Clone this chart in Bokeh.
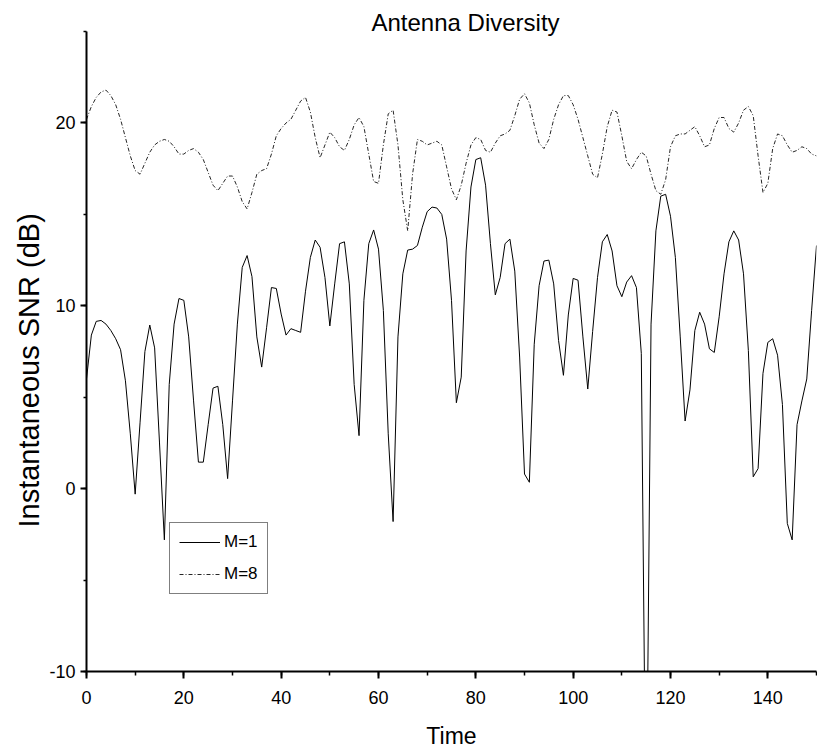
from bokeh.plotting import figure
from bokeh.models import Range1d, SingleIntervalTicker, Legend, LegendItem, Label, Title
from bokeh.embed import file_html
from bokeh.resources import INLINE

# ---- data -------------------------------------------------------------
time = list(range(151))

m1 = [6.0, 8.4, 9.15, 9.2, 9.0, 8.65, 8.2, 7.6, 5.9, 3.0,
      -0.3, 3.6, 7.5, 8.95, 7.7, 2.5, -2.8, 5.7, 9.0, 10.4,
      10.3, 8.3, 4.8, 1.45, 1.45, 3.5, 5.5, 5.6, 3.5, 0.55,
      4.8, 9.0, 12.1, 12.75, 11.6, 8.3, 6.65, 8.8, 11.0, 10.95,
      9.55, 8.4, 8.75, 8.65, 8.55, 10.8, 12.65, 13.6, 13.2, 11.55,
      8.9, 11.2, 13.4, 13.5, 11.2, 5.7, 2.9, 10.3, 13.4, 14.15,
      13.1, 9.75, 3.0, -1.8, 8.3, 11.75, 13.05, 13.1, 13.3, 14.3,
      15.15, 15.4, 15.35, 15.0, 13.65, 10.3, 4.7, 6.1, 13.0, 16.5,
      18.0, 18.1, 16.6, 13.4, 10.6, 11.55, 13.4, 13.65, 11.9, 7.2,
      0.8, 0.35, 7.9, 11.1, 12.45, 12.5, 11.2, 8.1, 6.2, 9.5,
      11.5, 11.4, 8.3, 5.45, 8.6, 11.55, 13.5, 13.9, 13.0, 11.1,
      10.5, 11.3, 11.65, 11.0, 7.4, -20.0, 9.0, 14.1, 16.0, 16.1,
      14.9, 12.65, 8.3, 3.7, 5.4, 8.65, 9.65, 9.0, 7.65, 7.45,
      9.4, 11.75, 13.5, 14.1, 13.6, 11.75, 7.55, 0.65, 1.1, 6.3,
      8.0, 8.2, 7.3, 4.6, -1.9, -2.8, 3.5, 4.8, 6.0, 9.75,
      13.3]

m8 = [20.2, 20.9, 21.4, 21.7, 21.8, 21.5, 21.0, 20.2, 19.2, 18.2,
      17.4, 17.2, 17.8, 18.4, 18.8, 19.0, 19.1, 19.0, 18.7, 18.3,
      18.3, 18.5, 18.6, 18.4, 18.0, 17.3, 16.6, 16.3, 16.7, 17.1,
      17.1, 16.5, 15.7, 15.3, 16.2, 17.2, 17.4, 17.5, 18.3, 19.3,
      19.7, 20.0, 20.2, 20.7, 21.2, 21.4, 20.6, 19.2, 18.1, 18.8,
      19.5, 19.2, 18.7, 18.5, 19.1, 19.9, 20.3, 19.8, 18.3, 16.8,
      16.7, 18.8, 20.5, 20.7, 18.8, 15.8, 14.1, 17.2, 19.1, 19.0,
      18.8, 18.9, 19.0, 18.8, 17.6, 16.4, 15.8, 16.6, 17.8, 18.8,
      19.2, 19.1, 18.5, 18.4, 18.9, 19.3, 19.4, 19.6, 20.4, 21.3,
      21.6, 21.1, 19.9, 18.9, 18.6, 19.1, 20.2, 21.0, 21.5, 21.5,
      21.0, 20.2, 19.2, 18.2, 17.2, 17.0, 18.3, 19.8, 20.7, 20.6,
      19.3, 17.9, 17.5, 18.0, 18.4, 18.2, 17.2, 16.3, 16.1, 16.9,
      18.7, 19.3, 19.4, 19.4, 19.6, 19.8, 19.3, 18.7, 18.8, 19.7,
      20.3, 20.3, 19.7, 19.5, 20.0, 20.7, 20.9, 20.4, 18.2, 16.2,
      16.7, 18.6, 19.4, 19.3, 18.8, 18.4, 18.5, 18.7, 18.6, 18.3,
      18.2]

x_ticks = [0, 20, 40, 60, 80, 100, 120, 140]
x_tick_labels = ["0", "20", "40", "60", "80", "100", "120", "140"]
y_ticks = [-10, 0, 10, 20]
y_tick_labels = ["-10", "0", "10", "20"]

title_text = "Antenna Diversity"
x_label = "Time"
y_label = "Instantaneous SNR (dB)"
series_names = ["M=1", "M=8"]

FONT = "'Liberation Sans', Arial, sans-serif"

# ---- figure -----------------------------------------------------------
# frame reaches the top of the page so the title (which overlaps the
# axis top) is not clipped; the axis itself is bounded to -10..25
p = figure(width=817, height=754, output_backend="svg", toolbar_location=None,
           x_range=Range1d(0, 150), y_range=Range1d(-10, 26.7),
           min_border_left=86, min_border_right=1, min_border_top=0,
           min_border_bottom=83)
p.outline_line_color = None
p.xgrid.visible = False
p.ygrid.visible = False
p.background_fill_color = "white"
p.border_fill_color = "white"

r1 = p.line(time, m1, line_color="black", line_width=1)
r8 = p.line(time, m8, line_color="#262626", line_width=1, line_dash="4 2 1 2")

# x axis
xa = p.xaxis[0]
xa.ticker = SingleIntervalTicker(interval=20, num_minor_ticks=2)
xa.major_label_overrides = {t: s for t, s in zip(x_ticks, x_tick_labels)}
xa.bounds = (0, 150)
xa.axis_line_width = 2
xa.axis_line_color = "black"
xa.major_tick_line_width = 2
xa.minor_tick_line_width = 1.5
xa.major_tick_in = 0
xa.major_tick_out = 7
xa.minor_tick_in = 0
xa.minor_tick_out = 4
xa.major_label_text_font = FONT
xa.major_label_text_font_size = "18px"
xa.major_label_text_color = "black"
xa.major_label_standoff = 12
xa.axis_label = x_label
xa.axis_label_text_font = FONT
xa.axis_label_text_font_size = "23px"
xa.axis_label_text_font_style = "normal"
xa.axis_label_text_color = "black"
xa.axis_label_standoff = 16

# y axis (ticks and numbers)
ya = p.yaxis[0]
ya.ticker = SingleIntervalTicker(interval=10, num_minor_ticks=2)
ya.major_label_overrides = {t: s for t, s in zip(y_ticks, y_tick_labels)}
ya.bounds = (-10, 25)
ya.axis_line_width = 2
ya.axis_line_color = "black"
ya.major_tick_line_width = 2
ya.minor_tick_line_width = 1.5
ya.major_tick_in = 0
ya.major_tick_out = 6
ya.minor_tick_in = 0
ya.minor_tick_out = 3
ya.major_label_text_font = FONT
ya.major_label_text_font_size = "18px"
ya.major_label_text_color = "black"
ya.major_label_standoff = 5

# y label as a side title (lets it start at the same height as the reference)
ylab = Title(text=y_label, align="left", offset=144, standoff=4,
             text_font=FONT, text_font_size="29px", text_font_style="normal",
             text_color="black")
p.add_layout(ylab, "left")

# title
title = Label(x=285, y=649, x_units="screen", y_units="screen", text=title_text,
              text_font=FONT, text_font_size="24px", text_color="black",
              text_align="left", text_baseline="alphabetic")
p.add_layout(title)

legend = Legend(items=[LegendItem(label=series_names[0], renderers=[r1]),
                       LegendItem(label=series_names[1], renderers=[r8])],
                location=(83, 77), orientation="vertical")
legend.border_line_color = "black"
legend.border_line_width = 1.5
legend.background_fill_color = "white"
legend.background_fill_alpha = 1
legend.label_text_font = FONT
legend.label_text_font_size = "17px"
legend.label_text_color = "black"
legend.glyph_width = 41
legend.glyph_height = 20
legend.label_height = 20
legend.label_standoff = 4
legend.padding = 9
legend.spacing = 12
legend.margin = 0
p.add_layout(legend)

open("out.html", "w").write(file_html(p, INLINE))
